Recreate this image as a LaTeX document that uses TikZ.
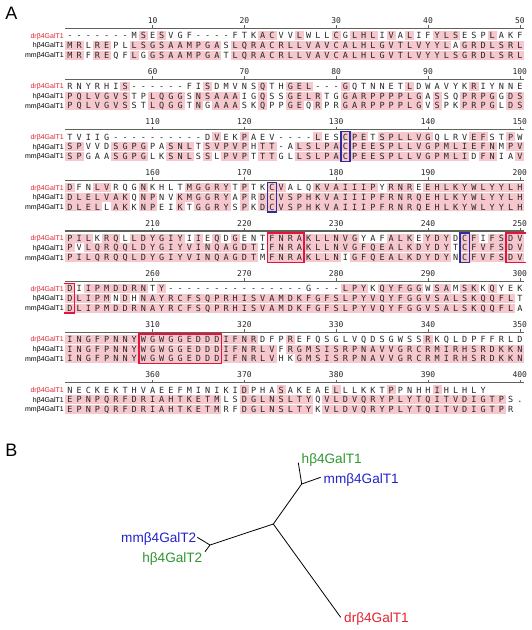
\documentclass[tikz,border=0pt]{standalone}
\usepackage{fontspec}
\setmainfont{Liberation Sans}
\newfontfamily\resfont{DejaVu Sans Mono}
\definecolor{drred}{RGB}{225,35,45}
\definecolor{hgreen}{RGB}{45,150,45}
\definecolor{mmblue}{RGB}{35,35,200}
\definecolor{respink}{RGB}{246,200,205}
\definecolor{boxred}{RGB}{230,20,60}
\definecolor{boxblue}{RGB}{45,45,155}
\definecolor{rulegray}{RGB}{95,100,90}

% store the alignment, one macro per residue
\newcount\alncol
\def\alnstore#1#2#3{\alncol=0 \def\alnblk{#1}\def\alnrow{#2}\alnstep#3\relax}
\def\alnstep#1{\ifx#1\relax\else
  \advance\alncol by 1
  \expandafter\gdef\csname aln-\alnblk-\alnrow-\the\alncol\endcsname{#1}%
  \expandafter\alnstep\fi}
\def\alndash{-}
\def\alndot{.}

% one residue: #1 x, #2 y, #3 own, #4 #5 others, #6 row tag
\newcommand\alnres[6]{%
  \ifx#3\relax\else
    \def\alnshade{0}%
    \ifx#3#4\def\alnshade{1}\fi
    \ifx#3#5\def\alnshade{1}\fi
    \ifx#3\alndash\def\alnshade{0}\fi
    \ifx#3\alndot\def\alnshade{0}\fi
    \ifnum\alnshade=1 \fill[resbg] (#1-4.59,#2-4.5) rectangle (#1+4.59,#2+4.5);\fi
    \node[res] (s\k-\i#6) at (#1,#2) {#3};
  \fi}
\newcommand\hlbox[4]{\draw[#1] ({65.41+9.18*(#3-1)},{20.7+50.6*(#2-1)+9.8})
  rectangle ({74.59+9.18*(#4-1)},{20.7+50.6*(#2-1)+39.4});}

\alnstore{1}{1}{-------MSESVGF----FTKACVVLWLLCGLHLIVALIFYLSESPLAKF}
\alnstore{1}{2}{MRLREPLLSGSAAMPGASLQRACRLLVAVCALHLGVTLVYYLAGRDLSRL}
\alnstore{1}{3}{MRFREQFLGGSAAMPGATLQRACRLLVAVCALHLGVTLVYYLSGRDLSRL}
\alnstore{2}{1}{RNYRHIS------FISDMVNSQTHGEL---GQTNNETLDWAVYKRIYNNE}
\alnstore{2}{2}{PQLVGVSTPLQGGSNSAAAIGQSSGELRTGGARPPPPLGASSQPRPGGDS}
\alnstore{2}{3}{PQLVGVSSTLQGGTNGAAASKQPPGEQRPRGARPPPPLGVSPKPRPGLDS}
\alnstore{3}{1}{TVIIG----------DVEKPAEV----LESCPETSPLLVGQLRVEFSTPW}
\alnstore{3}{2}{SPVVDSGPGPASNLTSVPVPHTT-ALSLPACPEESPLLVGPMLIEFNMPV}
\alnstore{3}{3}{SPGAASGPGLKSNLSSLPVPTTTGLLSLPACPEESPLLVGPMLIDFNIAV}
\alnstore{4}{1}{DFNLVRQGNKHLTMGGRYTPTKCVALQKVAIIIPYRNREEHLKYWLYYLH}
\alnstore{4}{2}{DLELVAKQNPNVKMGGRYAPRDCVSPHKVAIIIPFRNRQEHLKYWLYYLH}
\alnstore{4}{3}{DLELLAKKNPEIKTGGRYSPKDCVSPHKVAIIIPFRNRQEHLKYWLYYLH}
\alnstore{5}{1}{PILKRQLLDYGIYIIEQDGENTFNRAKLLNVGYAFALKEYDYDCFIFSDV}
\alnstore{5}{2}{PVLQRQQLDYGIYVINQAGDTIFNRAKLLNVGFQEALKDYDYTCFVFSDV}
\alnstore{5}{3}{PILQRQQLDYGIYVINQAGDTMFNRAKLLNIGFQEALKDYDYNCFVFSDV}
\alnstore{6}{1}{DIIPMDDRNTY---------------G---LPYKQYFGGWSAMSKKQYEK}
\alnstore{6}{2}{DLIPMNDHNAYRCFSQPRHISVAMDKFGFSLPYVQYFGGVSALSKQQFLT}
\alnstore{6}{3}{DLIPMDDRNAYRCFSQPRHISVAMDKFGFSLPYVQYFGGVSALSKQQFLA}
\alnstore{7}{1}{INGFPNNYWGWGGEDDDIFNRDFPREFQSGLVQDSGWSSRKQLDPFFRLD}
\alnstore{7}{2}{INGFPNNYWGWGGEDDDIFNRLVFRGMSISRPNAVVGRCRMIRHSRDKKN}
\alnstore{7}{3}{INGFPNNYWGWGGEDDDIFNRLVHKGMSISRPNAVVGRCRMIRHSRDKKN}
\alnstore{8}{1}{NECKEKTHVAEEFMINIKIDPHASAKEAELLLKKTPPNHHIHLHLY}
\alnstore{8}{2}{EPNPQRFDRIAHTKETMLSDGLNSLTYQVLDVQRYPLYTQITVDIGTPS.}
\alnstore{8}{3}{EPNPQRFDRIAHTKETMRFDGLNSLTYKVLDVQRYPLYTQITVDIGTPR}

\begin{document}
\begin{tikzpicture}[x=1pt,y=-1pt,
  res/.style={font=\resfont\fontsize{8.5}{9}\selectfont,text=black!85,
    inner sep=0pt,text height=6.2pt,text depth=0pt},
  resbg/.style={fill=respink},
  num/.style={font=\resfont\fontsize{8}{9}\selectfont,text=black!85,
    inner sep=0pt,text height=5.8pt,text depth=0pt},
  lab/.style={anchor=east,font=\fontsize{7}{8}\selectfont,inner sep=0pt,
    text height=5pt,text depth=0pt},
  rulerline/.style={draw=rulegray,line width=1.2pt},
  hlred/.style={draw=boxred,line width=1.5pt},
  hlblue/.style={draw=boxblue,line width=1.5pt},
  branch/.style={draw=black,line width=.8pt},
  leaflab/.style={font=\fontsize{13.6}{15}\selectfont,inner sep=0pt,
    text height=9.7pt,text depth=0pt},
  panel/.style={font=\fontsize{18}{20}\selectfont,inner sep=0pt}]
\useasboundingbox (0,0) rectangle (532,630);

\node[panel] (pA) at (11.5,13.5) {A};
\node[panel] (pB) at (11.5,450) {B};

% alignment blocks
\foreach \k in {1,...,8}{
  \pgfmathsetmacro\yb{20.7+50.6*(\k-1)}
  \foreach \i in {1,...,50}{
    \pgfmathsetmacro\xc{70+9.18*(\i-1)}
    \expandafter\let\expandafter\ra\csname aln-\k-1-\i\endcsname
    \expandafter\let\expandafter\rb\csname aln-\k-2-\i\endcsname
    \expandafter\let\expandafter\rc\csname aln-\k-3-\i\endcsname
    \alnres{\xc}{\yb+15}\ra\rb\rc{a}
    \alnres{\xc}{\yb+24.7}\rb\ra\rc{b}
    \alnres{\xc}{\yb+34.4}\rc\ra\rb{c}
  }
  \draw[rulerline] (65.4,\yb+7.8) -- (524.4,\yb+7.8);
  \foreach \j in {1,...,5}{
    \pgfmathsetmacro\xt{70+9.18*(10*\j-1)}
    \pgfmathtruncatemacro\num{50*(\k-1)+10*\j}
    \draw[rulerline,line width=.6pt] (\xt,\yb+7.8) -- (\xt,\yb+4.6);
    \node[num] (n\num) at (\xt,\yb) {\num};
  }
  \node[lab,text=drred] (ldr\k) at (64,\yb+15) {drβ4GalT1};
  \node[lab] (lh\k) at (64,\yb+24.7) {hβ4GalT1};
  \node[lab] (lmm\k) at (64,\yb+34.4) {mmβ4GalT1};
}

% boxed residues
\hlbox{hlblue}{3}{31}{31}
\hlbox{hlblue}{4}{23}{23}
\hlbox{hlblue}{5}{44}{44}
\hlbox{hlred}{5}{23}{26}
\hlbox{hlred}{7}{9}{17}
\draw[hlred] (526,233) -- (506.1,233) -- (506.1,262.5) -- (526,262.5);
\draw[hlred] (63.5,283.5) -- (74.6,283.5) -- (74.6,313.1) -- (63.5,313.1);

% tree
\coordinate (t0) at (273.3,524);
\coordinate (t1) at (301.7,484);
\coordinate (t2) at (210,545);
\coordinate (eh1) at (298.3,462.7);
\coordinate (emm1) at (320.7,477.3);
\coordinate (emm2) at (197.3,537.3);
\coordinate (eh2) at (205,551.7);
\coordinate (edr) at (340.7,617.3);
\draw[branch] (t0) -- (t1) (t1) -- (eh1) (t1) -- (emm1);
\draw[branch] (t0) -- (t2) (t2) -- (emm2) (t2) -- (eh2);
\draw[branch] (t0) -- (edr);
\node[leaflab,text=hgreen,anchor=west] (nh1) at (301.5,458.3) {hβ4GalT1};
\node[leaflab,text=mmblue,anchor=west] (nmm1) at (323.5,478.5) {mmβ4GalT1};
\node[leaflab,text=mmblue,anchor=east] (nmm2) at (196.5,537.5) {mmβ4GalT2};
\node[leaflab,text=hgreen,anchor=east] (nh2) at (202.5,557.3) {hβ4GalT2};
\node[leaflab,text=drred,anchor=west] (ndr) at (344,617.3) {drβ4GalT1};
\end{tikzpicture}
\end{document}
